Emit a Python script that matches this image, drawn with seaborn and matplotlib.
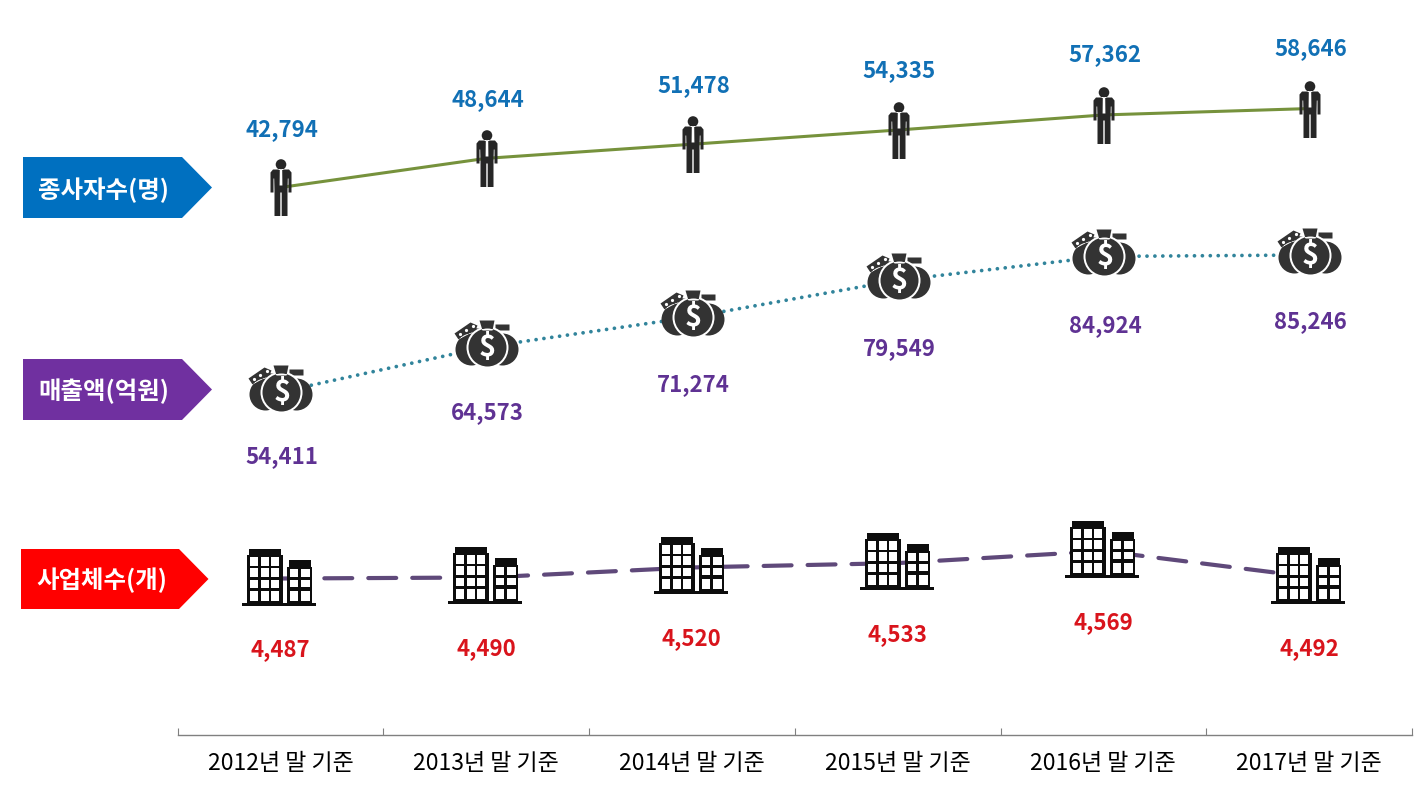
import numpy as np
import pandas as pd
import matplotlib
matplotlib.use('Agg')
import matplotlib.pyplot as plt
import seaborn as sns
from matplotlib.patches import Polygon
from matplotlib.path import Path

years=[2012,2013,2014,2015,2016,2017]
tick_labels=['2012년 말 기준','2013년 말 기준','2014년 말 기준','2015년 말 기준','2016년 말 기준','2017년 말 기준']
staff=[42794,48644,51478,54335,57362,58646]
sales=[54411,64573,71274,79549,84924,85246]
firms=[4487,4490,4520,4533,4569,4492]
tag_names=['종사자수(명)','매출액(억원)','사업체수(개)']

W,H=1425,790
sns.set_style('white')
plt.rcParams['font.family']=['Noto Sans CJK KR','DejaVu Sans']

fig=plt.figure(figsize=(W/100,H/100),dpi=100,facecolor='white')
left,right,base=177.5,1412,734.5
ax=fig.add_axes([left/W,1-base/H,(right-left)/W,base/H])
ax2=ax.twinx()
ax3=ax.twinx()

# pixel -> value mapping for each series: (px per unit, anchor value, anchor y px)
def set_scale(a,scale,v0,y0):
    a.set_ylim(v0-(base-y0)/scale,v0+y0/scale)
    a.set_xlim(2011.5,2017.5)
    a.set_yticks([])
    a.set_ylabel('')

set_scale(ax,0.00498,42794,187.5)
set_scale(ax2,0.004443,54411,392)
set_scale(ax3,0.335,4487,578.5)

def rect(x0,y0,x1,y1,hole=False):
    # y given downward in px, flipped here
    pts=[(x0,-y0),(x1,-y0),(x1,-y1),(x0,-y1)]
    if hole:
        pts=pts[::-1]
    return Path(pts+[pts[0]],[Path.MOVETO,Path.LINETO,Path.LINETO,Path.LINETO,Path.CLOSEPOLY])

def poly(pts):
    pts=[(x,-y) for x,y in pts]
    return Path(pts+[pts[0]],[Path.MOVETO]+[Path.LINETO]*(len(pts)-1)+[Path.CLOSEPOLY])

def circle(cx,cy,r):
    c=Path.unit_circle()
    return Path(c.vertices*r+[cx,-cy],c.codes)

def stamp(a,xs,ys,path,color,z):
    # marker gets normalised by its largest coordinate, so size comes from that
    R=np.abs(path.vertices).max()
    a.scatter(xs,ys,marker=path,s=(2*R*0.72)**2,c=color,linewidths=0,zorder=z,clip_on=False)

man=Path.make_compound_path(
    circle(0.5,-23,5.3),
    poly([(-7.5,-18),(8.5,-18),(11,-15),(11,5),(8,5),(8,-9),(7.3,-9),(7,3),(7,28.5),(1.2,28.5),(1.2,5),(-0.2,5),(-0.2,28.5),(-6,28.5),(-6,3),(-6.3,-9),(-7,-9),(-7,5),(-10,5),(-10,-15)]),
)
tie=poly([(-0.7,-18),(1.7,-18),(1.9,-2),(-0.9,-2)])

bags_back=Path.make_compound_path(
    circle(-15,2,16),
    circle(16,2,16),
    rect(-14,-19,-6,-14),
    rect(9,-23,23,-17),
    poly([(-32,-14),(-16,-25),(-9,-22),(-11,-17),(-28,-8)]),
)
bag_specks=Path.make_compound_path(
    circle(-26,-13,1.6),
    circle(-20,-17,1.6),
    circle(-13,-21,1.6),
)
bag_ring=circle(1,0,21)
bag_front=Path.make_compound_path(
    circle(1,0,19),
    poly([(-7,-27),(8,-27),(6,-17),(-4,-17)]),
)

windows=[]
for wx0,wx1 in [(-30.5,-22.5),(-19.5,-11),(-9,-0.8)]:
    for wy0,wy1 in [(-22,-13),(-10.8,-2),(0.5,9.2),(12,21.5)]:
        windows.append(rect(wx0,wy0,wx1,wy1,hole=True))
for wx0,wx1 in [(9.5,18.2),(20.5,30)]:
    for wy0,wy1 in [(-10.5,-2.5),(0.5,8.2),(12,21.5)]:
        windows.append(rect(wx0,wy0,wx1,wy1,hole=True))
building=Path.make_compound_path(
    rect(-31.5,-30,1,-24),
    rect(-33.2,-24,3,24),
    rect(8.7,-18.7,30.7,-12),
    rect(7.3,-12,32,24),
    rect(-38,24,36.3,27.5),
    *windows,
)
building_back=Path.make_compound_path(
    rect(-33.2,-24,3,24),
    rect(7.3,-12,32,24),
)

sns.lineplot(x=years,y=staff,ax=ax,color='#76923C',linewidth=2.2,zorder=2)
sns.lineplot(x=years,y=sales,ax=ax2,color='#31849B',linewidth=2.7,linestyle=(0,(0.01,2.1)),dash_capstyle='round',zorder=2)
sns.lineplot(x=years,y=firms,ax=ax3,color='#5F497A',linewidth=3,linestyle=(0,(6.7,3.85)),dash_capstyle='round',zorder=2)

stamp(ax,years,staff,man,'#262626',3)
stamp(ax,years,staff,tie,'white',4)
stamp(ax2,years,sales,bags_back,'#333333',3)
stamp(ax2,years,sales,bag_specks,'white',4)
stamp(ax2,years,sales,bag_ring,'white',4)
stamp(ax2,years,sales,bag_front,'#333333',5)
stamp(ax3,years,firms,building_back,'white',2.5)
stamp(ax3,years,firms,building,'#0d0d0d',3)

# label distance from its point, px
staff_gap=[58,59,59,59,60,60]
sales_gap=[64.5,66,67,68,69,66.5]
label_kw=dict(textcoords='offset points',ha='center',va='center',fontsize=16,fontweight='bold',annotation_clip=False)
for yr,v,g in zip(years,staff,staff_gap):
    ax.annotate(f'{v:,}',(yr,v),xytext=(1.2,g*0.72),color='#1170B5',**label_kw)
for yr,v,g in zip(years,sales,sales_gap):
    ax2.annotate(f'{v:,}',(yr,v),xytext=(1.2,-g*0.72),color='#5F3293',**label_kw)
    ax2.annotate('$',(yr,v),xytext=(1,0),color='white',textcoords='offset points',ha='center',va='center',
                 fontsize=21,fontweight='bold',zorder=6,annotation_clip=False)
for yr,v in zip(years,firms):
    ax3.annotate(f'{v:,}',(yr,v),xytext=(0,-71.5*0.72),color='#D9141C',**label_kw)

# category axis along the bottom
ax.set_xticks(years)
ax.set_xticklabels(tick_labels,fontsize=16.5,color='black',fontweight='medium')
ax.set_xticks(np.arange(2011.5,2018),minor=True)
ax.tick_params(axis='x',which='major',length=0,pad=12.7)
ax.tick_params(axis='x',which='minor',direction='in',length=5.2,width=0.8,color='#808080',bottom=True)
ax.set_xlabel('')
ax2.tick_params(axis='x',which='both',length=0)
ax3.tick_params(axis='x',which='both',length=0)
for a in (ax,ax2,ax3):
    a.patch.set_alpha(0)
    for s in a.spines.values():
        s.set_visible(False)
ax.spines['bottom'].set_visible(True)
ax.spines['bottom'].set_color('#808080')
ax.spines['bottom'].set_linewidth(1)

# arrow tags on the left, positions in figure pixels
tags=[(23,182,212,157,218,'#0070C0',190),(23,182,212,359,420,'#7030A0',391),(21,179,208.5,549,609,'#FF0000',580)]
for name,(x0,x1,tip,y0,y1,col,ty) in zip(tag_names,tags):
    pts=[(x0,y0),(x1,y0),(tip,(y0+y1)/2),(x1,y1),(x0,y1)]
    fig.add_artist(Polygon([(px/W,1-py/H) for px,py in pts],closed=True,transform=fig.transFigure,facecolor=col,edgecolor='none'))
    fig.text((x0+80.5)/W,1-ty/H,name,color='white',fontsize=17.6,fontweight='bold',ha='center',va='center')

fig.savefig('out.png',dpi=100,facecolor='white')
